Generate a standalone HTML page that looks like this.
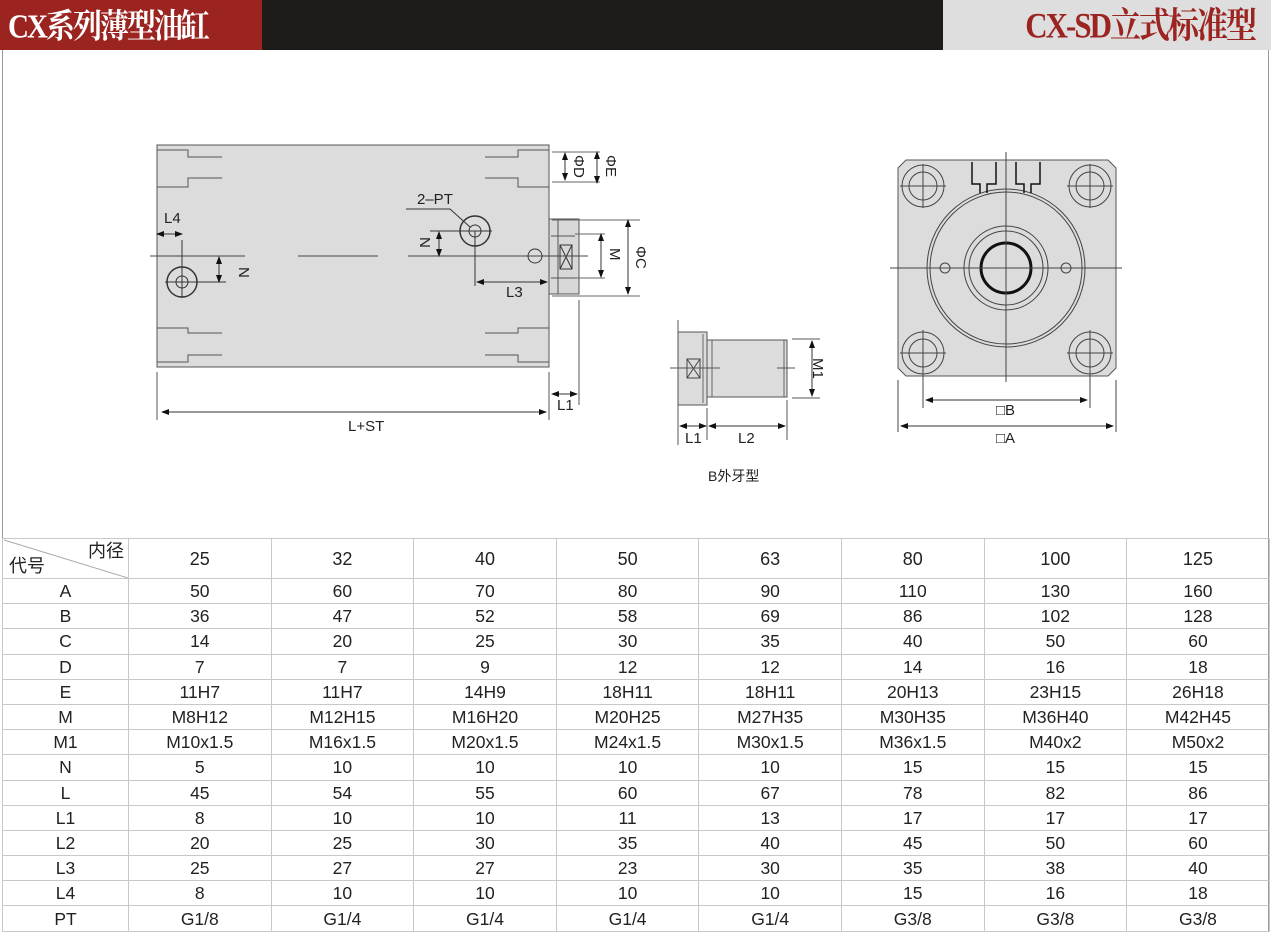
<!DOCTYPE html>
<html><head><meta charset="utf-8"><style>
*{margin:0;padding:0;box-sizing:border-box}
body{width:1271px;height:934px;background:#fff;position:relative;overflow:hidden;font-family:"Liberation Sans","Noto Sans CJK SC",sans-serif}
#hd1{position:absolute;left:0;top:0;width:262px;height:50px;background:#9c2420}
#hd1 span{position:absolute;left:8px;top:4px;color:#fff;font:bold 29px "Liberation Serif","Noto Serif CJK SC",serif;line-height:40px;letter-spacing:-2px;transform:scaleY(1.15);transform-origin:left top;white-space:nowrap}
#hd2{position:absolute;left:262px;top:0;width:681px;height:50px;background:#1f1b19}
#hd3{position:absolute;left:943px;top:0;width:328px;height:50px;background:#dedede}
#hd3 span{position:absolute;right:16px;top:3px;color:#9c2420;font:bold 31px "Liberation Serif","Noto Serif CJK SC",serif;line-height:40px;letter-spacing:-2px;transform:scaleY(1.15);transform-origin:right top;white-space:nowrap}
#frame{position:absolute;left:2px;top:50px;width:1267px;height:882px;border:1px solid #999;border-top:none}
svg{position:absolute;left:0;top:0}
table{position:absolute;left:2px;top:538px;border-collapse:collapse;font-size:17.5px;color:#222}
td{border:1px solid #c8c8c8;text-align:center;height:25.2px;padding:0;line-height:20px}
tr:first-child td{height:40px;font-size:18px}
</style></head><body>
<div id="hd1"><span>CX系列薄型油缸</span></div><div id="hd2"></div><div id="hd3"><span>CX-SD立式标准型</span></div>
<div id="frame"></div>
<svg width="1271" height="934" viewBox="0 0 1271 934" font-family="Liberation Sans, sans-serif" font-size="15" fill="none" stroke="#333" stroke-width="1">
<defs><marker id="a" markerWidth="8" markerHeight="8" refX="7" refY="4" orient="auto-start-reverse"><path d="M0,1 L8,4 L0,7z" fill="#111" stroke="none"/></marker></defs>
<rect x="157" y="145" width="392" height="222" fill="#dcdcdc" stroke="#555"/>
<g stroke="#555">
<path d="M157,150 H188 V157 H222 M157,187 H188 V178 H222 M157,328 H188 V333 H222 M157,362 H188 V355 H222"/>
<path d="M549,150 H518 V157 H485 M549,187 H518 V178 H485 M549,328 H518 V333 H485 M549,362 H518 V355 H485"/>
</g>
<rect x="549" y="219" width="30" height="75" fill="#d8d8d8" stroke="#555"/>
<path d="M558,219 V294 M551,236 H575 M551,278 H575" stroke="#555"/>
<rect x="560" y="245" width="12" height="24" fill="none" stroke="#333"/><path d="M560,245 L572,269 M572,245 L560,269" stroke="#333"/>
<path d="M150,256 H245 M298,256 H378 M408,256 H588" stroke="#444"/>
<circle cx="182" cy="282" r="15" stroke-width="1.5"/><circle cx="182" cy="282" r="6"/><path d="M165,282 H226 M182,240 V298"/>
<circle cx="475" cy="231" r="15" stroke-width="1.5"/><circle cx="475" cy="231" r="6"/><path d="M430,231 H492 M475,231 V286"/>
<circle cx="535" cy="256" r="7"/>
<path d="M406,209 H450 L470,227"/>
<text x="417" y="204" fill="#222" stroke="none">2–PT</text>
<path d="M157,234 H182" marker-start="url(#a)" marker-end="url(#a)"/><text x="164" y="223" fill="#222" stroke="none">L4</text>
<path d="M219,257 V282" marker-start="url(#a)" marker-end="url(#a)"/><text x="230" y="262" transform="rotate(90 232 269)" fill="#222" stroke="none">N</text>
<path d="M439,232 V256" marker-start="url(#a)" marker-end="url(#a)"/><text x="418" y="249" transform="rotate(90 425 244)" fill="#222" stroke="none">N</text>
<path d="M477,282 H547" marker-start="url(#a)" marker-end="url(#a)"/><text x="506" y="297" fill="#222" stroke="none">L3</text>
<path d="M552,152 H600 M552,182 H600 M552,220 H640 M552,296 H640 M575,234 H605 M575,278 H605" stroke="#666"/>
<path d="M565,153 V180" marker-start="url(#a)" marker-end="url(#a)"/>
<path d="M597,152 V183" marker-start="url(#a)" marker-end="url(#a)"/>
<path d="M601,234 V277" marker-start="url(#a)" marker-end="url(#a)"/>
<path d="M628,220 V294" marker-start="url(#a)" marker-end="url(#a)"/>
<g fill="#222" stroke="none"><text transform="translate(574,155) rotate(90)">ΦD</text><text transform="translate(606,155) rotate(90)">ΦE</text><text transform="translate(610,248) rotate(90)">M</text><text transform="translate(636,246) rotate(90)">ΦC</text></g>
<path d="M157,372 V420 M549,372 V420 M579,300 V405" stroke="#555"/>
<path d="M162,412 H546" marker-start="url(#a)" marker-end="url(#a)"/><text x="348" y="431" fill="#222" stroke="none">L+ST</text>
<path d="M552,394 H577" marker-start="url(#a)" marker-end="url(#a)"/><text x="557" y="410" fill="#222" stroke="none">L1</text>
<rect x="678" y="332" width="29" height="73" fill="#dcdcdc" stroke="#555"/>
<rect x="707" y="340" width="80" height="57" fill="#dcdcdc" stroke="#555"/>
<path d="M703,334 V403 M712,340 V397 M784,340 V397" stroke="#666"/>
<path d="M687,359 H700 V378 H687 Z M687,359 L700,378 M700,359 L687,378" stroke="#444"/>
<path d="M670,368 H720 M777,368 H795 M678,320 V445 M707,408 V440 M787,400 V440 M792,339 H820 M792,398 H820" stroke="#555"/>
<path d="M812,341 V396" marker-start="url(#a)" marker-end="url(#a)"/><text transform="translate(813,358) rotate(90)" fill="#222" stroke="none">M1</text>
<path d="M680,426 H706" marker-start="url(#a)" marker-end="url(#a)"/><path d="M709,426 H785" marker-start="url(#a)" marker-end="url(#a)"/>
<text x="685" y="443" fill="#222" stroke="none">L1</text><text x="738" y="443" fill="#222" stroke="none">L2</text>
<text x="708" y="481" fill="#222" stroke="none" font-family="Liberation Sans, Noto Sans CJK SC, sans-serif" font-size="14">B外牙型</text>
<path d="M906,160 H1108 L1116,168 V368 L1108,376 H906 L898,368 V168 Z" fill="#dcdcdc" stroke="#555"/>
<g stroke="#444">
<circle cx="1006" cy="268" r="79"/><circle cx="1006" cy="268" r="76"/>
<circle cx="1006" cy="268" r="42"/><circle cx="1006" cy="268" r="37"/>
<circle cx="1006" cy="268" r="25" stroke="#111" stroke-width="3"/>
<circle cx="945" cy="268" r="5"/><circle cx="1066" cy="268" r="5"/>
<circle cx="923" cy="186" r="21"/><circle cx="923" cy="186" r="14"/>
<circle cx="1090" cy="186" r="21"/><circle cx="1090" cy="186" r="14"/>
<circle cx="923" cy="353" r="21"/><circle cx="923" cy="353" r="14"/>
<circle cx="1090" cy="353" r="21"/><circle cx="1090" cy="353" r="14"/>
<path d="M890,268 H1122 M1006,152 V382 M900,186 H946 M923,164 V208 M1067,186 H1113 M1090,164 V208 M900,353 H946 M923,330 V408 M1067,353 H1113 M1090,330 V408 M898,380 V432 M1116,380 V432"/>
<path d="M972,162 V184 H980 V193 M987,193 V184 H996 V162 M1016,162 V184 H1024 V193 M1031,193 V184 H1040 V162" stroke="#111" stroke-width="1.5"/>
</g>
<path d="M926,400 H1087" marker-start="url(#a)" marker-end="url(#a)"/>
<path d="M901,426 H1113" marker-start="url(#a)" marker-end="url(#a)"/>
<text x="996" y="415" fill="#222" stroke="none">□B</text><text x="996" y="443" fill="#222" stroke="none">□A</text>
<path d="M4,540 L128,578" stroke="#aaa"/>
</svg>
<table>
<colgroup><col style="width:126px"><col style="width:142.6px"><col style="width:142.6px"><col style="width:142.6px"><col style="width:142.6px"><col style="width:142.6px"><col style="width:142.6px"><col style="width:142.6px"><col style="width:142.6px"></colgroup>
<tr><td style="position:relative"><span style="position:absolute;right:4px;top:2px">内径</span><span style="position:absolute;left:6px;bottom:2px">代号</span></td><td>25</td><td>32</td><td>40</td><td>50</td><td>63</td><td>80</td><td>100</td><td>125</td></tr>
<tr><td>A</td><td>50</td><td>60</td><td>70</td><td>80</td><td>90</td><td>110</td><td>130</td><td>160</td></tr>
<tr><td>B</td><td>36</td><td>47</td><td>52</td><td>58</td><td>69</td><td>86</td><td>102</td><td>128</td></tr>
<tr><td>C</td><td>14</td><td>20</td><td>25</td><td>30</td><td>35</td><td>40</td><td>50</td><td>60</td></tr>
<tr><td>D</td><td>7</td><td>7</td><td>9</td><td>12</td><td>12</td><td>14</td><td>16</td><td>18</td></tr>
<tr><td>E</td><td>11H7</td><td>11H7</td><td>14H9</td><td>18H11</td><td>18H11</td><td>20H13</td><td>23H15</td><td>26H18</td></tr>
<tr><td>M</td><td>M8H12</td><td>M12H15</td><td>M16H20</td><td>M20H25</td><td>M27H35</td><td>M30H35</td><td>M36H40</td><td>M42H45</td></tr>
<tr><td>M1</td><td>M10x1.5</td><td>M16x1.5</td><td>M20x1.5</td><td>M24x1.5</td><td>M30x1.5</td><td>M36x1.5</td><td>M40x2</td><td>M50x2</td></tr>
<tr><td>N</td><td>5</td><td>10</td><td>10</td><td>10</td><td>10</td><td>15</td><td>15</td><td>15</td></tr>
<tr><td>L</td><td>45</td><td>54</td><td>55</td><td>60</td><td>67</td><td>78</td><td>82</td><td>86</td></tr>
<tr><td>L1</td><td>8</td><td>10</td><td>10</td><td>11</td><td>13</td><td>17</td><td>17</td><td>17</td></tr>
<tr><td>L2</td><td>20</td><td>25</td><td>30</td><td>35</td><td>40</td><td>45</td><td>50</td><td>60</td></tr>
<tr><td>L3</td><td>25</td><td>27</td><td>27</td><td>23</td><td>30</td><td>35</td><td>38</td><td>40</td></tr>
<tr><td>L4</td><td>8</td><td>10</td><td>10</td><td>10</td><td>10</td><td>15</td><td>16</td><td>18</td></tr>
<tr><td>PT</td><td>G1/8</td><td>G1/4</td><td>G1/4</td><td>G1/4</td><td>G1/4</td><td>G3/8</td><td>G3/8</td><td>G3/8</td></tr>
</table>
</body></html>
